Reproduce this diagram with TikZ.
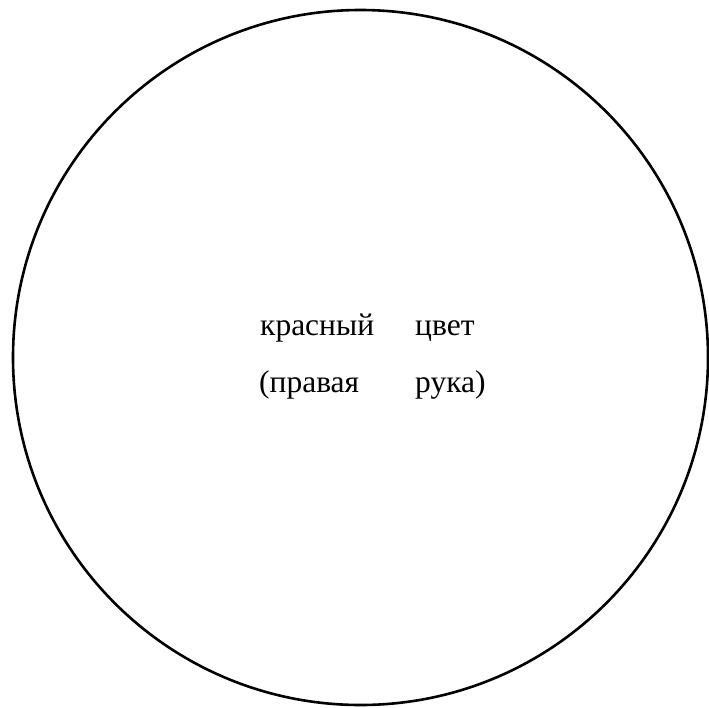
\documentclass[tikz,border=0pt]{standalone}
\usepackage{fontspec}
\setmainfont{Liberation Serif}
\begin{document}
\begin{tikzpicture}[x=1pt,y=1pt,
  lbl/.style={anchor=base west,inner sep=0pt,font=\fontsize{31.5}{36}\selectfont}]
\useasboundingbox (0,0) rectangle (709,-707);
\node[draw,line width=2.6pt,circle,minimum size=695pt,inner sep=0pt] (c) at (360.5,-357.5) {};
\node[lbl] (a1) at (260,-335) {красный};
\node[lbl] (a2) at (415,-335) {цвет};
\node[lbl] (b1) at (259,-392) {(правая};
\node[lbl] (b2) at (415,-392) {рука)};
\end{tikzpicture}
\end{document}
